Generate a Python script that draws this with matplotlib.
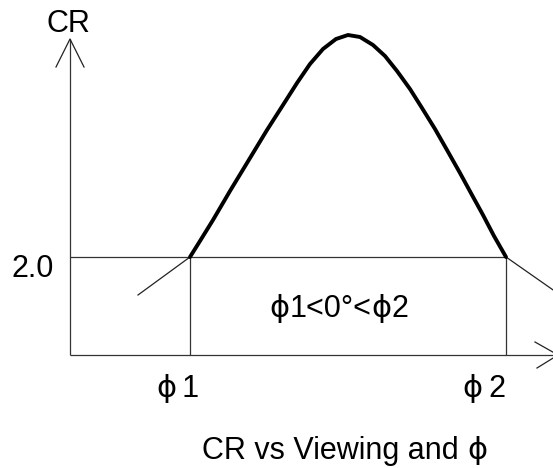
import matplotlib
matplotlib.use("Agg")
import matplotlib.pyplot as plt

# Schematic coordinates (pixel space of the reference drawing)
curve_x = [190, 200, 213, 230, 247, 267, 283, 297, 310, 323, 336, 348,
           360, 373, 385, 397, 410, 422, 435, 447, 460, 472, 483, 494, 506]
curve_y = [257, 241, 220, 191, 163, 130, 105, 83, 64, 49, 39, 35,
           37, 45, 56, 71, 89, 108, 129, 150, 173, 195, 215, 236, 257]

origin = (70, 355)
y_axis_top = 39
x_axis_right = 558
level_y = 257          # CR = 2.0 level
phi1_x, phi2_x = 190, 506
left_tangent = [(138, 295), (190, 257)]
right_tangent = [(506, 257), (556, 292)]

level_label = "2.0"
PHI = "ϕ"
phi1_label = [(PHI, "phi"), ("\u20091", "txt")]
phi2_label = [(PHI, "phi"), ("\u20092", "txt")]
range_label = [(PHI, "phi"), ("1<0°<", "txt"), (PHI, "phi"), ("2", "txt")]
title_label = [("CR vs Viewing and ", "txt"), (PHI, "phi")]
y_label = "CR"

fig = plt.figure(figsize=(5.53, 4.68), dpi=100)
ax = fig.add_axes([0, 0, 1, 1])
ax.set_xlim(0, 553)
ax.set_ylim(468, 0)
ax.axis("off")

thin = dict(color="#333333", lw=0.9, solid_capstyle="butt")
fam = ["Liberation Sans", "DejaVu Sans"]
phifam = ["DejaVu Sans"]
fs = 22

# axes
ax.plot([origin[0], origin[0]], [origin[1], y_axis_top], **thin)
ax.plot([origin[0], x_axis_right], [origin[1], origin[1]], **thin)
# arrowheads
ax.plot([56, origin[0], 84], [67, y_axis_top, 67], color="#222222", lw=0.9)
ax.plot([535, x_axis_right, 537], [342, origin[1], 368], color="#222222", lw=0.9)

# level and bounding lines
ax.plot([origin[0], phi2_x], [level_y, level_y], **thin)
ax.plot([phi1_x, phi1_x], [level_y, origin[1]], **thin)
ax.plot([phi2_x, phi2_x], [level_y, origin[1]], **thin)
ax.plot([p[0] for p in left_tangent], [p[1] for p in left_tangent], color="#222222", lw=0.9)
ax.plot([p[0] for p in right_tangent], [p[1] for p in right_tangent], color="#222222", lw=0.9)

# curve
ax.plot(curve_x, curve_y, color="black", lw=2.8, solid_joinstyle="round", solid_capstyle="round")

ax.text(68.5, 24, y_label, fontsize=fs, ha="center", va="center", family=fam)
ax.text(32.5, 269, level_label, fontsize=fs, ha="center", va="center", family=fam)

renderer = fig.canvas.get_renderer()


def seg_text(x, y, segments, ha="center"):
    """Draw consecutive text segments (sans text, wide phi) on one baseline."""
    arts = []
    widths = []
    for s, kind in segments:
        t = ax.text(0, y, s, fontsize=fs, ha="left", va="baseline",
                    family=phifam if kind == "phi" else fam)
        arts.append(t)
        widths.append(t.get_window_extent(renderer).width)
    total = sum(widths)
    # pixel units == data units horizontally here
    start = x - total / 2 if ha == "center" else x
    for t, w in zip(arts, widths):
        t.set_x(start)
        start += w


seg_text(339, 317, range_label)
seg_text(177.5, 397, phi1_label)
seg_text(484, 397, phi2_label)
seg_text(202, 459, title_label, ha="left")

fig.savefig("out.png", dpi=100)
